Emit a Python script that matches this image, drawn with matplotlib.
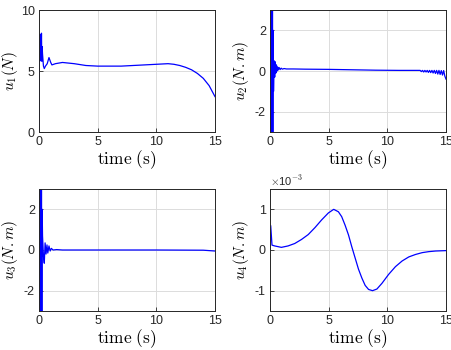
import matplotlib

matplotlib.use("Agg")
import matplotlib.pyplot as plt

plt.rcParams["font.family"] = ["Liberation Sans", "DejaVu Sans"]
plt.rcParams["mathtext.fontset"] = "cm"
plt.rcParams["axes.unicode_minus"] = False

# u1 thrust (N)
t1 = [0, 0.03, 0.06, 0.09, 0.12, 0.15, 0.18, 0.21, 0.24, 0.27, 0.30, 0.38,
      0.45, 0.55, 0.7, 0.85, 1.0, 1.1, 1.4, 2.0, 3.0, 4.0, 5.0, 6.0, 7.0,
      8.0, 9.0, 10.0, 11.0, 11.5, 12.0, 12.5, 13.0, 13.5, 14.0, 14.5, 15.0]
u1 = [0, 7.9, 5.8, 8.0, 5.9, 7.8, 6.0, 8.1, 5.8, 7.0, 6.4, 5.4,
      5.2, 5.4, 5.6, 6.1, 5.7, 5.5, 5.6, 5.7, 5.6, 5.45, 5.4, 5.4, 5.4,
      5.45, 5.5, 5.55, 5.6, 5.55, 5.45, 5.3, 5.1, 4.8, 4.4, 3.8, 2.9]

# u2 torque (N.m)
t2 = [0, 0.03, 0.06, 0.09, 0.12, 0.15, 0.18, 0.21, 0.24, 0.27, 0.30, 0.35,
      0.40, 0.45, 0.50, 0.55, 0.60, 0.65, 0.70, 0.78, 0.86, 0.95, 1.05, 1.2,
      1.4, 1.7, 2.0, 3.0, 5.0, 7.0, 9.0, 11.0, 12.0, 12.8, 12.9, 13.0, 13.1,
      13.2, 13.3, 13.4, 13.5, 13.6, 13.7, 13.8, 13.9, 14.0, 14.1, 14.2, 14.3,
      14.4, 14.5, 14.6, 14.7, 14.8, 14.9, 15.0]
u2 = [0, 3.5, -3.5, 3.5, -3.5, 3.5, -3.5, 3.2, -3.5, 2.0, -1.0, 0.5,
      -0.3, 0.45, -0.1, 0.3, 0.0, 0.2, 0.05, 0.17, 0.07, 0.14, 0.09, 0.12,
      0.1, 0.1, 0.1, 0.09, 0.08, 0.06, 0.04, 0.03, 0.03, 0.03, -0.03, 0.03, -0.05,
      0.03, -0.05, 0.03, -0.07, 0.03, -0.08, 0.03, -0.1, 0.03, -0.12, 0.03, -0.15,
      0.03, -0.17, 0.02, -0.2, 0.02, -0.25, -0.4]

# u3 torque (N.m)
t3 = [0, 0.03, 0.06, 0.09, 0.12, 0.15, 0.18, 0.21, 0.24, 0.27, 0.30, 0.38,
      0.45, 0.52, 0.60, 0.68, 0.75, 0.85, 0.95, 1.05, 1.2, 1.5, 2.0, 5.0,
      10.0, 14.0, 15.0]
u3 = [0, 3.5, -3.5, 3.5, -3.5, 3.5, -3.5, 3.5, -3.5, 2.0, 0.7, -0.3,
      -0.65, 0.35, -0.2, 0.25, -0.15, 0.2, -0.05, 0.08, 0.0, 0.02, 0.0, 0.0,
      0.0, -0.01, -0.05]

# u4 torque (x1e-3 N.m)
t4 = [0, 0.06, 0.17, 0.4, 0.97, 1.54, 2.11, 2.69, 3.26, 3.83, 4.4, 4.97,
      5.43, 5.83, 6.11, 6.4, 6.69, 6.97, 7.26, 7.54, 7.83, 8.11, 8.4, 8.74,
      9.11, 9.54, 10.11, 10.69, 11.26, 11.83, 12.4, 12.97, 13.54, 14.11, 15.0]
u4 = [0, 0.6, 0.12, 0.1, 0.065, 0.1, 0.16, 0.26, 0.38, 0.55, 0.74, 0.91,
      1.0, 0.94, 0.82, 0.61, 0.37, 0.08, -0.2, -0.47, -0.69, -0.87, -0.97, -1.0,
      -0.96, -0.82, -0.6, -0.41, -0.27, -0.17, -0.11, -0.065, -0.04, -0.025, -0.015]

fig = plt.figure(figsize=(4.52, 3.5), dpi=100)
w, h = 176 / 452, 122 / 350
lefts = [39 / 452, 270 / 452]
bottoms = [1 - 132 / 350, 1 - 311 / 350]

panels = [
    (t1, u1, (0, 10), [0, 5, 10], r"$u_1(N)$"),
    (t2, u2, (-3, 3), [-2, 0, 2], r"$u_2(N{.}m)$"),
    (t3, u3, (-3, 3), [-2, 0, 2], r"$u_3(N{.}m)$"),
    (t4, u4, (-1.5, 1.5), [-1, 0, 1], r"$u_4(N{.}m)$"),
]

for i, (t, u, ylim, yticks, ylab) in enumerate(panels):
    ax = fig.add_axes([lefts[i % 2], bottoms[i // 2], w, h])
    ax.plot(t, u, color="#0000ff", linewidth=0.9)
    ax.set_xlim(0, 15)
    ax.set_ylim(*ylim)
    ax.set_xticks([0, 5, 10, 15])
    ax.set_yticks(yticks)
    ax.grid(True, color="#dcdcdc", linewidth=0.7)
    ax.set_axisbelow(True)
    for s in ax.spines.values():
        s.set_color("#262626")
        s.set_linewidth(0.7)
    ax.tick_params(direction="in", length=3, width=0.6, labelsize=9,
                   colors="#262626", pad=3, top=False, right=False)
    ax.set_xlabel(r"$\mathrm{time\ (s)}$", fontsize=12.5, labelpad=0)
    ax.set_ylabel(ylab, fontsize=11)
    ax.yaxis.set_label_coords(-0.11, 0.5)
    if i == 3:
        ax.text(0, 1.01, r"$\times$10$^{-3}$", transform=ax.transAxes,
                fontsize=8, color="#262626", va="bottom")

fig.savefig("out.png", dpi=100)
